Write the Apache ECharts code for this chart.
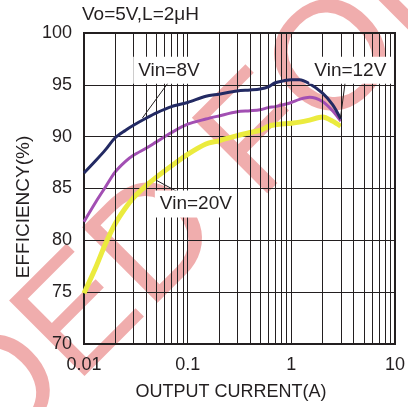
<!DOCTYPE html>
<html>
<head>
<meta charset="utf-8">
<script src="https://cdn.jsdelivr.net/npm/echarts@6/dist/echarts.min.js"></script>
<style>
  html, body { margin: 0; padding: 0; background: #fff; }
  #effChart { width: 408px; height: 407px; }
</style>
</head>
<body>
<div id="effChart"></div>
<script>
// output current (A)
var current = [0.01, 0.013, 0.016, 0.02, 0.025, 0.03, 0.04, 0.05, 0.07, 0.1, 0.15, 0.2, 0.3, 0.4, 0.5, 0.6, 0.7, 0.85, 1, 1.2, 1.5, 2, 2.5, 3];
// efficiency (%)
var eff8V = [86.5, 87.7, 88.7, 89.9, 90.6, 91.1, 91.8, 92.3, 92.9, 93.3, 93.9, 94.1, 94.4, 94.5, 94.6, 94.8, 95.2, 95.4, 95.5, 95.5, 95.1, 94.2, 93.1, 91.7];
var eff12V = [81.8, 83.7, 85.1, 86.6, 87.6, 88.2, 88.9, 89.5, 90.4, 91.2, 91.7, 92.0, 92.4, 92.5, 92.6, 92.8, 92.9, 93.1, 93.3, 93.6, 93.8, 93.4, 92.5, 91.5];
var eff20V = [74.9, 77.4, 79.6, 81.6, 83.1, 84.1, 85.3, 86.1, 87.2, 88.3, 89.3, 89.6, 90.1, 90.4, 90.6, 91.0, 91.15, 91.25, 91.3, 91.4, 91.6, 91.9, 91.5, 91.0];

var xTickLabels = { "-2": "0.01", "-1": "0.1", "0": "1", "1": "10" };
var minorGrid = [0.02, 0.03, 0.04, 0.05, 0.06, 0.07, 0.08, 0.09,
                 0.2, 0.3, 0.4, 0.5, 0.6, 0.7, 0.8, 0.9,
                 2, 3, 4, 5, 6, 7, 8, 9];

// callouts: text, text centre, leader start (on curve), leader end
var calloutText = ["Vin=8V", "Vin=12V", "Vin=20V"];
var calloutAt = [[0.066, 96.4], [3.71, 96.4], [0.12, 83.5]];
var leaderFrom = [[0.0366, 91.8], [2.98, 91.8], [0.0497, 85.8]];
var leaderTo = [[0.0648, 95.2], [3.32, 95.4], [0.094, 84.3]];

function pairs(ys) {
  return current.map(function (x, i) {
    return [x, ys[i]];
  });
}

var ink = "#231f20";
var font18 = '18px "Liberation Sans", Arial, sans-serif';
var font19 = '19px "Liberation Sans", Arial, sans-serif';
var wmFont = '155px "Liberation Sans", Arial, sans-serif';
var wmColor = "rgba(220,60,60,0.42)";

var myChart = echarts.init(document.getElementById("effChart"));

var option = {
  backgroundColor: "#fff",
  animation: false,
  grid: {
    left: 84,
    right: 10,
    top: 33,
    bottom: 63,
    show: true,
    borderColor: ink,
    borderWidth: 2,
  },
  xAxis: {
    type: "log",
    logBase: 10,
    min: 0.01,
    max: 10,
    axisLine: { show: false },
    axisTick: { show: false },
    axisLabel: {
      margin: 12,
      color: ink,
      fontSize: 18,
      fontFamily: "Liberation Sans",
      formatter: function (v) {
        return xTickLabels[Math.round(Math.log10(v))] || "";
      },
    },
    splitLine: { show: true, lineStyle: { color: ink, width: 1 } },
  },
  yAxis: {
    type: "value",
    min: 70,
    max: 100,
    interval: 5,
    axisLine: { show: false },
    axisTick: { show: false },
    axisLabel: {
      margin: 12,
      color: ink,
      fontSize: 18,
      fontFamily: "Liberation Sans",
    },
    splitLine: { show: true, lineStyle: { color: ink, width: 1 } },
  },
  graphic: [
    // watermark
    {
      type: "text", x: 228, y: 172, rotation: Math.PI / 4, z: -10, silent: true,
      style: { text: "NOT RECOMMENDED ", font: wmFont, fill: wmColor, align: "right", verticalAlign: "middle" },
    },
    {
      type: "text", x: 228, y: 172, rotation: Math.PI / 4, z: -10, silent: true,
      style: { text: "FOR NEW DESIGN", font: wmFont, fill: wmColor, align: "left", verticalAlign: "middle" },
    },
    {
      type: "text", x: 82, y: 15, z: 50,
      style: { text: "Vo=5V,L=2μH", font: font19, fill: ink, align: "left", verticalAlign: "middle" },
    },
    {
      type: "text", x: 24, y: 207, rotation: Math.PI / 2, z: 50,
      style: { text: "EFFICIENCY(%)", font: font19, fill: ink, align: "center", verticalAlign: "middle" },
    },
    {
      type: "text", x: 231, y: 392, z: 50,
      style: { text: "OUTPUT CURRENT(A)", font: font18, fill: ink, align: "center", verticalAlign: "middle" },
    },
  ],
  series: [
    {
      name: "minor",
      type: "line",
      data: [],
      z: 1,
      silent: true,
      markLine: {
        silent: true,
        animation: false,
        symbol: ["none", "none"],
        label: { show: false },
        lineStyle: { color: ink, width: 1, type: "solid" },
        emphasis: { disabled: true },
        data: minorGrid.map(function (v) {
          return { xAxis: v };
        }),
      },
    },
    {
      name: "Vin=20V",
      type: "line",
      smooth: 0.3,
      showSymbol: false,
      z: 3,
      lineStyle: { color: "#ebeb3e", width: 5 },
      data: pairs(eff20V),
    },
    {
      name: "Vin=12V",
      type: "line",
      smooth: 0.3,
      showSymbol: false,
      z: 4,
      lineStyle: { color: "#a24fb3", width: 3 },
      data: pairs(eff12V),
    },
    {
      name: "Vin=8V",
      type: "line",
      smooth: 0.3,
      showSymbol: false,
      z: 5,
      lineStyle: { color: "#232a63", width: 3 },
      data: pairs(eff8V),
    },
  ],
};
myChart.setOption(option);

// callouts placed through the axes
var extra = option.graphic.slice();
calloutText.forEach(function (t, i) {
  var p = myChart.convertToPixel({ gridIndex: 0 }, calloutAt[i]);
  var a = myChart.convertToPixel({ gridIndex: 0 }, leaderFrom[i]);
  var b = myChart.convertToPixel({ gridIndex: 0 }, leaderTo[i]);
  extra.push({
    type: "line", z: 60, silent: true,
    shape: { x1: a[0], y1: a[1], x2: b[0], y2: b[1] },
    style: { stroke: ink, lineWidth: 1 },
  });
  extra.push({
    type: "text", x: p[0], y: p[1], z: 70,
    style: {
      text: t, font: font19, fill: ink, align: "center", verticalAlign: "middle",
      backgroundColor: "#fff", padding: [4, 5],
    },
  });
});
myChart.setOption({ graphic: extra }, { replaceMerge: ["graphic"] });
</script>
</body>
</html>
